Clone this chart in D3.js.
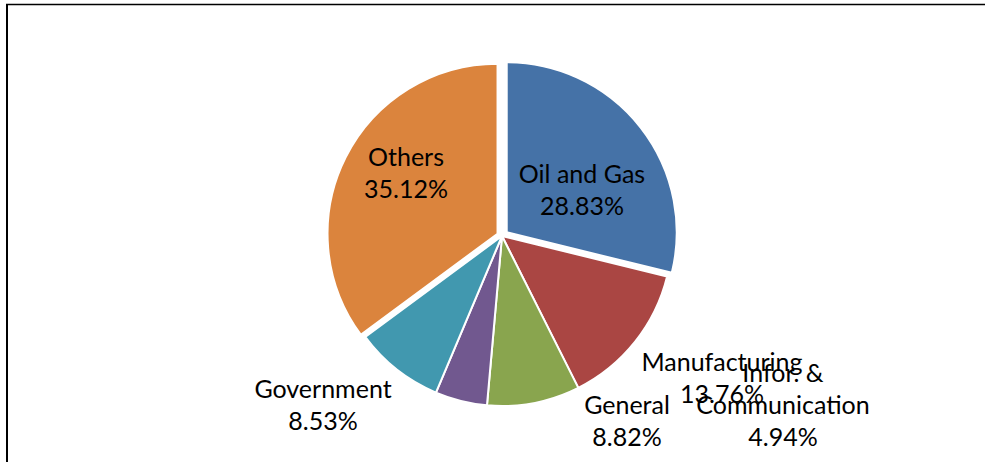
<!DOCTYPE html>
<html>
<head>
<meta charset="utf-8">
<script src="https://cdn.jsdelivr.net/npm/d3@7"></script>
<style>
    body { margin: 0; background: #fff; }
    text { font-family: Lato, "Open Sans", sans-serif; fill: #000; }
</style>
</head>
<body>
<div id="chart"></div>
<script>
// chart data
let sectors = ['Oil and Gas', 'Manufacturing', 'General', 'Infor. & Communication', 'Government', 'Others']
let shares = [28.83, 13.76, 8.82, 4.94, 8.53, 35.12]
let labelLines = [
    ['Oil and Gas', '28.83%'],
    ['Manufacturing', '13.76%'],
    ['General', '8.82%'],
    ['Infor. &', 'Communication', '4.94%'],
    ['Government', '8.53%'],
    ['Others', '35.12%']
]
let colors = ['#4572a7', '#aa4643', '#89a54e', '#71588f', '#4198af', '#db843d']

// layout: where each label sits (text centre x, first baseline y) and slice explosion
let labelPos = [[582, 183], [722, 371], [627, 414], [783, 382], [323, 398], [406, 166]]
let explode = [6, 0, 0, 0, 0, 5]

let svgWidth = 987
let svgHeight = 462
let cx = 502, cy = 236, radius = 170
let lineGap = 32

let svg = d3.select('#chart')
    .append('svg')
    .attr('width', svgWidth)
    .attr('height', svgHeight)

// frame (only top and left edges are visible in the crop)
svg.append('line')
    .attr('x1', 6).attr('x2', 985)
    .attr('y1', 4.5).attr('y2', 4.5)
    .attr('stroke', '#000').attr('stroke-width', 1.5)
svg.append('line')
    .attr('x1', 7).attr('x2', 7)
    .attr('y1', 4).attr('y2', svgHeight)
    .attr('stroke', '#000').attr('stroke-width', 2)

let pie = d3.pie().sort(null).value(d => d)
let arcs = pie(shares)

let arc = d3.arc().innerRadius(0).outerRadius(radius)

let pieGroup = svg.append('g')
    .attr('transform', `translate(${cx}, ${cy})`)

pieGroup.selectAll('path')
    .data(arcs)
    .enter()
    .append('path')
    .attr('d', arc)
    .attr('fill', (d, i) => colors[i])
    .attr('stroke', '#fff')
    .attr('stroke-width', 2)
    .attr('stroke-linejoin', 'round')
    .attr('transform', (d, i) => {
        let mid = (d.startAngle + d.endAngle) / 2
        let dx = Math.sin(mid) * explode[i]
        let dy = -Math.cos(mid) * explode[i]
        return `translate(${dx}, ${dy})`
    })

let labels = svg.selectAll('g.label')
    .data(labelLines)
    .enter()
    .append('g')
    .classed('label', true)

labels.each(function (lines, i) {
    let g = d3.select(this)
    lines.forEach((t, j) => {
        g.append('text')
            .attr('x', labelPos[i][0])
            .attr('y', labelPos[i][1] + j * lineGap)
            .attr('text-anchor', 'middle')
            .attr('font-size', 25)
            .text(t)
    })
})
</script>
</body>
</html>
